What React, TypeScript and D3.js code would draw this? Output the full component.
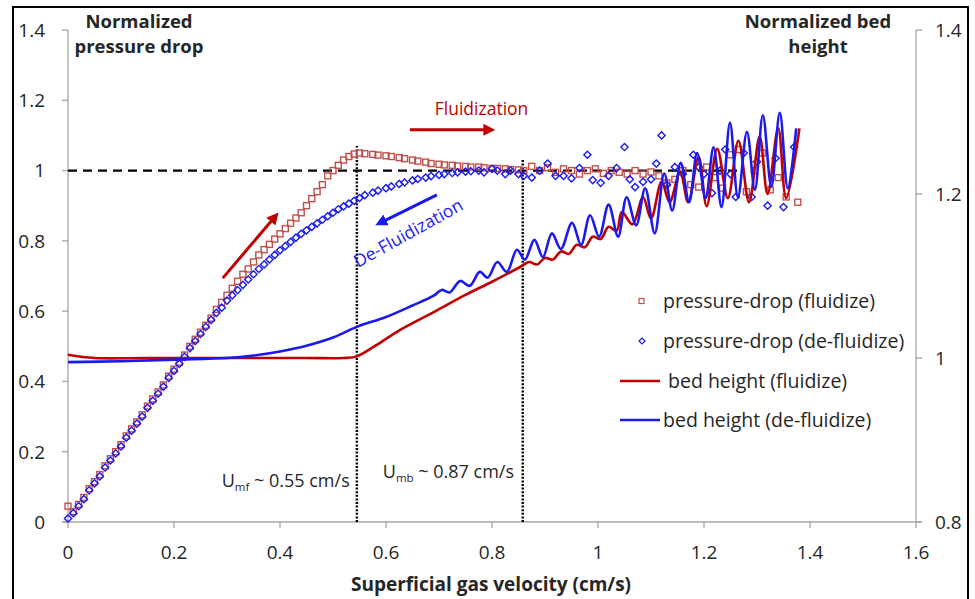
import React from "react";
import * as d3 from "d3";

// velocities shared by both pressure-drop series (cm/s)
const riseVelocity = [
  0, 0.01, 0.02, 0.03, 0.04, 0.05, 0.06, 0.07, 0.08, 0.09,
  0.1, 0.11, 0.12, 0.13, 0.14, 0.15, 0.16, 0.17, 0.18, 0.19,
  0.2, 0.21, 0.22, 0.23, 0.24, 0.25, 0.26, 0.27, 0.28, 0.29,
  0.3, 0.31, 0.32, 0.33, 0.34, 0.35, 0.36, 0.37, 0.38, 0.39,
  0.4, 0.41, 0.42, 0.43, 0.44, 0.45, 0.46, 0.47, 0.48, 0.49,
  0.5, 0.51, 0.52, 0.53, 0.54, 0.55,
];
const plateauVelocity = [
  0.56, 0.575, 0.585, 0.6, 0.61, 0.625, 0.635, 0.65, 0.66, 0.675, 0.685, 0.7, 0.71,
  0.725, 0.735, 0.75, 0.76, 0.775, 0.785, 0.8, 0.81, 0.825, 0.835, 0.85, 0.86,
];

// pressure drop, fluidize (red squares)
const pdFluidRise = [
  0.045, 0.03, 0.05, 0.07, 0.095, 0.115, 0.135, 0.16, 0.18, 0.2,
  0.22, 0.245, 0.265, 0.285, 0.305, 0.33, 0.35, 0.37, 0.39, 0.415,
  0.435, 0.455, 0.475, 0.5, 0.52, 0.54, 0.56, 0.58, 0.605, 0.625,
  0.645, 0.665, 0.685, 0.705, 0.72, 0.74, 0.76, 0.775, 0.79, 0.805,
  0.82, 0.835, 0.85, 0.865, 0.88, 0.9, 0.92, 0.94, 0.96, 0.985,
  1.0, 1.015, 1.03, 1.04, 1.047, 1.05,
];
const pdFluidPlateau = [
  1.048, 1.046, 1.044, 1.042, 1.04, 1.037, 1.034, 1.03, 1.027, 1.024, 1.02, 1.018, 1.016,
  1.015, 1.013, 1.012, 1.01, 1.01, 1.008, 1.006, 1.006, 1.005, 1.003, 1.002, 1.0,
];
const pdFluidNoiseV = [
  0.875, 0.89, 0.905, 0.92, 0.935, 0.95, 0.965, 0.98, 0.995, 1.01,
  1.025, 1.04, 1.055, 1.07, 1.085, 1.1, 1.115, 1.13, 1.145, 1.16,
  1.175, 1.19, 1.205, 1.22, 1.235, 1.25, 1.265, 1.28, 1.295, 1.31,
  1.325, 1.34, 1.355, 1.377,
];
const pdFluidNoise = [
  1.012, 1.0, 1.008, 0.995, 1.005, 1.0, 0.99, 1.0, 1.005, 0.992,
  1.0, 0.995, 0.99, 1.0, 0.99, 0.996, 0.985, 0.965, 0.975, 1.0,
  0.96, 0.953, 1.01, 0.98, 0.95, 1.045, 1.06, 0.94, 1.0, 1.05,
  0.945, 0.98, 0.925, 0.91,
];

// pressure drop, de-fluidize (blue diamonds)
const pdDefluidRise = [
  0.01, 0.025, 0.045, 0.065, 0.09, 0.11, 0.13, 0.155, 0.175, 0.195,
  0.215, 0.24, 0.26, 0.28, 0.3, 0.325, 0.345, 0.365, 0.385, 0.41,
  0.43, 0.45, 0.47, 0.495, 0.515, 0.535, 0.555, 0.575, 0.595, 0.61,
  0.63, 0.645, 0.66, 0.675, 0.69, 0.705, 0.72, 0.733, 0.747, 0.76,
  0.773, 0.785, 0.797, 0.809, 0.82, 0.83, 0.84, 0.85, 0.86, 0.87,
  0.88, 0.89, 0.898, 0.906, 0.914, 0.922,
];
const pdDefluidPlateau = [
  0.93, 0.937, 0.943, 0.95, 0.955, 0.962, 0.966, 0.972, 0.976, 0.98, 0.984, 0.988, 0.99,
  0.993, 0.995, 0.997, 0.998, 1.0, 0.995, 1.005, 1.0, 0.99, 1.0, 0.99, 0.985,
];
const pdDefluidNoiseV = [
  0.875, 0.89, 0.905, 0.92, 0.935, 0.95, 0.965, 0.98, 0.99, 1.005,
  1.02, 1.035, 1.05, 1.06, 1.07, 1.085, 1.1, 1.11, 1.12, 1.13,
  1.145, 1.16, 1.18, 1.19, 1.2, 1.215, 1.23, 1.24, 1.25, 1.26,
  1.275, 1.29, 1.3, 1.32, 1.335, 1.35, 1.37,
];
const pdDefluidNoise = [
  0.98, 1.0, 1.02, 0.985, 0.985, 0.978, 1.007, 1.045, 0.973, 0.965,
  0.985, 1.007, 1.067, 0.975, 0.953, 0.968, 0.975, 1.02, 1.1, 0.96,
  1.01, 0.99, 1.045, 1.01, 0.99, 0.936, 1.0, 1.06, 0.99, 0.925,
  1.05, 0.925, 1.025, 0.9, 1.035, 0.896, 1.067,
];

// bed height, fluidize (red line, right axis)
const bedFluidV = [
  0, 0.05, 0.15, 0.3, 0.45, 0.52, 0.545, 0.58, 0.626, 0.69,
  0.75, 0.8, 0.853, 0.87, 0.885, 0.9, 0.915, 0.93, 0.945, 0.96,
  0.975, 0.99, 1.005, 1.02, 1.035, 1.045, 1.065, 1.085, 1.1, 1.12,
  1.135, 1.155, 1.17, 1.19, 1.205, 1.225, 1.245, 1.265, 1.285, 1.305,
  1.32, 1.34, 1.355, 1.38,
];
const bedFluidH = [
  1.004, 1.0, 1.0, 1.0, 1.0, 1.0, 1.002, 1.015, 1.034, 1.056,
  1.077, 1.093, 1.111, 1.117, 1.114, 1.122, 1.12, 1.13, 1.127, 1.138,
  1.135, 1.148, 1.145, 1.16, 1.155, 1.178, 1.163, 1.196, 1.17, 1.215,
  1.19, 1.227, 1.19, 1.245, 1.185, 1.255, 1.195, 1.265, 1.19, 1.27,
  1.2, 1.28, 1.195, 1.28,
];

// bed height, de-fluidize (blue line, right axis)
const bedDefluidV = [
  0, 0.1, 0.2, 0.3, 0.35, 0.4, 0.45, 0.5, 0.545, 0.6,
  0.65, 0.69, 0.705, 0.72, 0.74, 0.758, 0.777, 0.792, 0.81, 0.828, 0.847,
  0.862, 0.88, 0.896, 0.913, 0.93, 0.951, 0.968, 0.985, 1.002, 1.02,
  1.038, 1.054, 1.072, 1.089, 1.107, 1.125, 1.14, 1.156, 1.172, 1.187,
  1.203, 1.218, 1.233, 1.249, 1.264, 1.281, 1.296, 1.311, 1.327, 1.343,
  1.358, 1.374,
];
const bedDefluidH = [
  0.995, 0.996, 0.998, 1.0, 1.003, 1.008, 1.015, 1.025, 1.038, 1.05,
  1.064, 1.076, 1.083, 1.08, 1.094, 1.088, 1.105, 1.098, 1.117, 1.105, 1.132,
  1.12, 1.144, 1.123, 1.152, 1.133, 1.165, 1.138, 1.174, 1.148, 1.187,
  1.148, 1.196, 1.162, 1.207, 1.152, 1.225, 1.18, 1.238, 1.19, 1.25,
  1.195, 1.257, 1.184, 1.287, 1.196, 1.276, 1.205, 1.296, 1.209, 1.299,
  1.207, 1.28,
];

const xTicks = [0, 0.2, 0.4, 0.6, 0.8, 1, 1.2, 1.4, 1.6];
const leftTicks = [0, 0.2, 0.4, 0.6, 0.8, 1, 1.2, 1.4];
const rightTicks = [0.8, 1, 1.2, 1.4];
const legendLabels = [
  "pressure-drop (fluidize)",
  "pressure-drop (de-fluidize)",
  "bed height (fluidize)",
  "bed height (de-fluidize)",
];

const FONT = "'Open Sans', Lato, sans-serif";
const RED = "#C00000";
const SQ_RED = "#C0504D";
const BLUE = "#1A1AF0";
const AXIS = "#A6A6A6";
const TXT = "#262626";

export default function App() {
  const x = d3.scaleLinear().domain([0, 1.6]).range([68, 916]);
  const yP = d3.scaleLinear().domain([0, 1.4]).range([522, 30]);
  const yH = d3.scaleLinear().domain([0.8, 1.4]).range([522, 30]);

  const fluidP = [...pdFluidRise, ...pdFluidPlateau, ...pdFluidNoise];
  const fluidPts = [...riseVelocity, ...plateauVelocity, ...pdFluidNoiseV].map((v, i) => [v, fluidP[i]]);
  const defluidP = [...pdDefluidRise, ...pdDefluidPlateau, ...pdDefluidNoise];
  const defluidPts = [...riseVelocity, ...plateauVelocity, ...pdDefluidNoiseV].map((v, i) => [v, defluidP[i]]);

  const bedLine = d3
    .line<number>()
    .x((v) => x(v))
    .curve(d3.curveCatmullRom.alpha(0.5));
  const redBed = bedLine.y((_, i) => yH(bedFluidH[i]))(bedFluidV) || "";
  const blueBed = bedLine.y((_, i) => yH(bedDefluidH[i]))(bedDefluidV) || "";

  const diamond = "M0,-3.6L3.6,0L0,3.6L-3.6,0Z";

  const legendY = [301, 341, 381, 420];

  return (
    <svg
      width={975}
      height={599}
      style={{ position: "absolute", left: 0, top: 0, background: "#fff" }}
      fontFamily={FONT}
    >
      <defs>
        <marker id="arRed" viewBox="0 0 10 10" refX="5" refY="5" markerWidth="4" markerHeight="4" orient="auto">
          <path d="M0,0L10,5L0,10Z" fill={RED} />
        </marker>
        <marker id="arBlue" viewBox="0 0 10 10" refX="5" refY="5" markerWidth="4" markerHeight="4" orient="auto">
          <path d="M0,0L10,5L0,10Z" fill={BLUE} />
        </marker>
      </defs>
      <rect x={0} y={0} width={975} height={599} fill="#fff" />
      <rect x={13} y={7} width={955} height={610} fill="none" stroke="#000" strokeWidth={2} />

      {/* axes */}
      <g stroke={AXIS} strokeWidth={1.3}>
        <line x1={x(0)} x2={x(0)} y1={yP(1.4)} y2={yP(0)} />
        <line x1={x(1.6)} x2={x(1.6)} y1={yH(1.4)} y2={yH(0.8)} />
        <line x1={x(0) - 6} x2={x(1.6) + 6} y1={yP(0)} y2={yP(0)} />
        {leftTicks.map((t) => (
          <line key={"lt" + t} x1={x(0) - 6} x2={x(0)} y1={yP(t)} y2={yP(t)} />
        ))}
        {rightTicks.map((t) => (
          <line key={"rt" + t} x1={x(1.6)} x2={x(1.6) + 6} y1={yH(t)} y2={yH(t)} />
        ))}
        {xTicks.map((t) => (
          <line key={"xt" + t} x1={x(t)} x2={x(t)} y1={yP(0)} y2={yP(0) + 6} />
        ))}
      </g>
      <g fontSize={19} fill={TXT}>
        {leftTicks.map((t) => (
          <text key={"ll" + t} x={45} y={yP(t)} dy="0.36em" textAnchor="end">
            {String(t)}
          </text>
        ))}
        {rightTicks.map((t) => (
          <text key={"rl" + t} x={935} y={yH(t)} dy="0.36em">
            {String(t)}
          </text>
        ))}
        {xTicks.map((t) => (
          <text key={"xl" + t} x={x(t)} y={559} textAnchor="middle">
            {String(t)}
          </text>
        ))}
      </g>
      <g fontSize={18.5} fontWeight="bold" fill={TXT} textAnchor="middle">
        <text x={139} y={28}>Normalized</text>
        <text x={139} y={53}>pressure drop</text>
        <text x={818} y={28}>Normalized bed</text>
        <text x={818} y={53}>height</text>
        <text x={491} y={591} fontSize={19}>Superficial gas velocity (cm/s)</text>
      </g>

      {/* reference lines */}
      <line
        x1={x(0)}
        x2={x(1.27)}
        y1={yP(1)}
        y2={yP(1)}
        stroke="#000"
        strokeWidth={2.2}
        strokeDasharray="9,6"
      />
      <line x1={x(0.545)} x2={x(0.545)} y1={yP(0)} y2={yP(1.07)} stroke="#000" strokeWidth={2.4} strokeDasharray="2,1.6" />
      <line x1={x(0.858)} x2={x(0.858)} y1={yP(0)} y2={yP(1.03)} stroke="#000" strokeWidth={2.4} strokeDasharray="2,1.6" />

      {/* pressure-drop markers */}
      <g fill="none" stroke={SQ_RED} strokeWidth={1.4}>
        {fluidPts.map(([v, p], i) => (
          <rect key={"s" + i} x={x(v) - 3} y={yP(p) - 3} width={6} height={6} />
        ))}
      </g>
      <g fill="none" stroke={BLUE} strokeWidth={1.4}>
        {defluidPts.map(([v, p], i) => (
          <path key={"d" + i} d={diamond} transform={`translate(${x(v)},${yP(p)})`} />
        ))}
      </g>

      {/* bed height lines */}
      <path d={redBed} fill="none" stroke={RED} strokeWidth={2.6} />
      <path d={blueBed} fill="none" stroke={BLUE} strokeWidth={2.6} />

      {/* annotations */}
      <line x1={x(0.645)} x2={x(0.795)} y1={yP(1.116)} y2={yP(1.116)} stroke={RED} strokeWidth={3} markerEnd="url(#arRed)" />
      <text x={x(0.692)} y={yP(1.158)} fontSize={17.5} fill={RED}>
        Fluidization
      </text>
      <line x1={x(0.292)} x2={x(0.39)} y1={yP(0.694)} y2={yP(0.868)} stroke={RED} strokeWidth={3} markerEnd="url(#arRed)" />
      <line x1={x(0.696)} x2={x(0.59)} y1={yP(0.931)} y2={yP(0.852)} stroke={BLUE} strokeWidth={3} markerEnd="url(#arBlue)" />
      <text
        transform={`translate(${x(0.547)},${yP(0.723)}) rotate(-29)`}
        fontSize={17.5}
        fill={BLUE}
      >
        De-Fluidization
      </text>
      <text x={x(0.29)} y={yP(0.1)} fontSize={18} fill={TXT}>
        U<tspan fontSize={11.5} dy={4}>mf</tspan>
        <tspan dy={-4}> ~ 0.55 cm/s</tspan>
      </text>
      <text x={x(0.594)} y={yP(0.125)} fontSize={18} fill={TXT}>
        U<tspan fontSize={11.5} dy={4}>mb</tspan>
        <tspan dy={-4}> ~ 0.87 cm/s</tspan>
      </text>

      {/* legend */}
      <g fontSize={19.5} fill={TXT}>
        <rect x={639} y={legendY[0] - 2.5} width={5} height={5} fill="none" stroke={SQ_RED} strokeWidth={1.2} />
        <path d="M0,-3L3,0L0,3L-3,0Z" transform={`translate(642,${legendY[1]})`} fill="none" stroke={BLUE} strokeWidth={1.2} />
        <line x1={620} x2={660} y1={legendY[2]} y2={legendY[2]} stroke={RED} strokeWidth={2.4} />
        <line x1={620} x2={660} y1={legendY[3]} y2={legendY[3]} stroke={BLUE} strokeWidth={2.4} />
        <text x={663} y={legendY[0]} dy="0.35em">{legendLabels[0]}</text>
        <text x={663} y={legendY[1]} dy="0.35em">{legendLabels[1]}</text>
        <text x={668} y={legendY[2]} dy="0.35em">{legendLabels[2]}</text>
        <text x={663} y={legendY[3]} dy="0.35em">{legendLabels[3]}</text>
      </g>
    </svg>
  );
}
